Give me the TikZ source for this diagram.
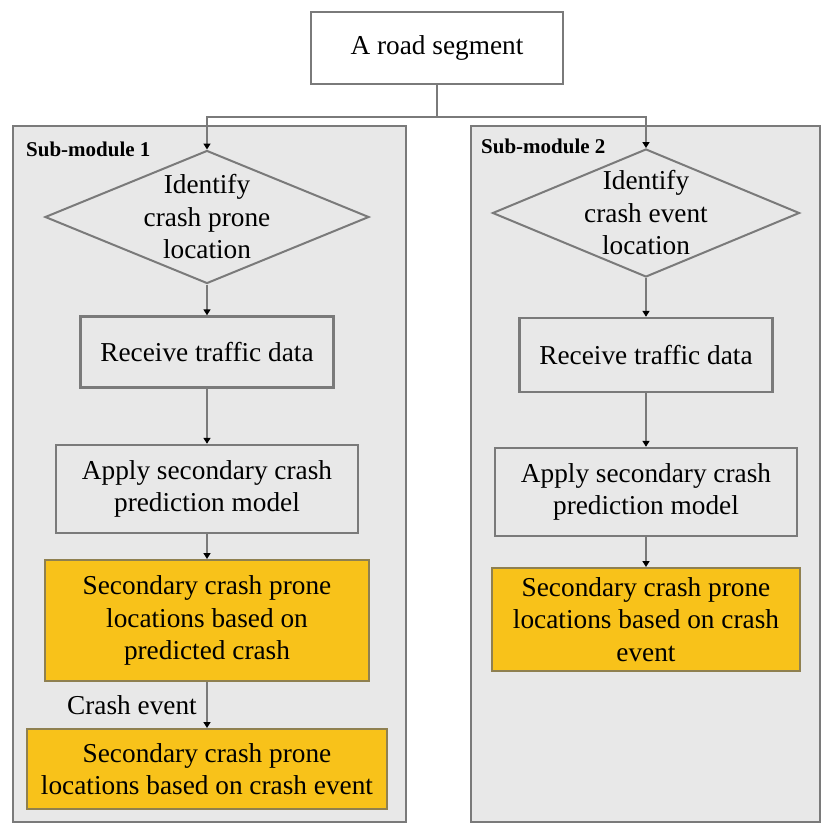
\documentclass[tikz,border=0pt]{standalone}
\usepackage{fontspec}
\setmainfont{Liberation Serif}
\usetikzlibrary{arrows.meta,shapes.geometric}
\definecolor{bgray}{HTML}{E8E8E8}
\definecolor{lgray}{HTML}{7A7A7A}
\definecolor{ylw}{HTML}{F8C21A}
\definecolor{ybrd}{HTML}{8F8050}
\tikzset{
  every node/.style={font=\fontsize{27.3}{32.5}\selectfont, inner sep=0pt, align=center},
  module/.style={draw=lgray, line width=2.4pt, fill=bgray},
  graybox/.style={draw=lgray, line width=2.4pt, fill=bgray},
  topbox/.style={draw=lgray, line width=2.4pt, fill=white},
  ybox/.style={draw=ybrd, line width=2pt, fill=ylw},
  dia/.style={draw=lgray, line width=2pt, fill=bgray, shape=diamond, inner sep=0pt},
  sublabel/.style={font=\fontsize{21}{24}\selectfont\bfseries, anchor=west},
  arr/.style={draw=lgray, line width=2.4pt, -{Triangle[length=6pt,width=7pt,color=black]}},
  conn/.style={draw=lgray, line width=2.4pt},
}
\begin{document}
\begin{tikzpicture}[x=1pt,y=-1pt]
\useasboundingbox (0,0) rectangle (827,828);
% modules
\node[module, minimum width=393, minimum height=696] (m1) at (209.5,474) {};
\node[module, minimum width=349, minimum height=696] (m2) at (645.5,474) {};
\node[sublabel] (s1) at (26,149) {Sub-module 1};
\node[sublabel] (s2) at (481,146) {Sub-module 2};
% top
\node[topbox, minimum width=252, minimum height=72] (top) at (437,48) {A road segment};
% column 1
\node[dia, minimum width=324, minimum height=133,
  label={[align=center]center:Identify\\crash prone\\location}] (d1) at (207,217) {};
\node[graybox, minimum width=253, minimum height=71] (r1) at (207,352) {Receive traffic data};
\node[graybox, minimum width=302, minimum height=88] (a1) at (207,489) {Apply secondary crash\\prediction model};
\node[ybox, minimum width=324, minimum height=121] (y1) at (207,620.5) {Secondary crash prone\\locations based on\\predicted crash};
\node[ybox, minimum width=360, minimum height=80] (y3) at (207,769) {Secondary crash prone\\locations based on crash event};
% column 2
\node[dia, minimum width=307, minimum height=128,
  label={[align=center]center:Identify\\crash event\\location}] (d2) at (646,213) {};
\node[graybox, minimum width=253, minimum height=74] (r2) at (646,355) {Receive traffic data};
\node[graybox, minimum width=302, minimum height=88] (a2) at (646,492) {Apply secondary crash\\prediction model};
\node[ybox, minimum width=308, minimum height=103] (y2) at (646,619.5) {Secondary crash prone\\locations based on crash\\event};
% connectors
\coordinate (j) at (437,117);
\draw[conn] (top.south) -- (j);
\draw[arr] (j) -| (d1.north);
\draw[arr] (j) -| (d2.north);
\draw[arr] (d1.south) -- (r1.north);
\draw[arr] (r1.south) -- (a1.north);
\draw[arr] (a1.south) -- (y1.north);
\draw[arr] (y1.south) -- node[left=9pt] (ce) {Crash event} (y3.north);
\draw[arr] (d2.south) -- (r2.north);
\draw[arr] (r2.south) -- (a2.north);
\draw[arr] (a2.south) -- (y2.north);
\end{tikzpicture}
\end{document}
